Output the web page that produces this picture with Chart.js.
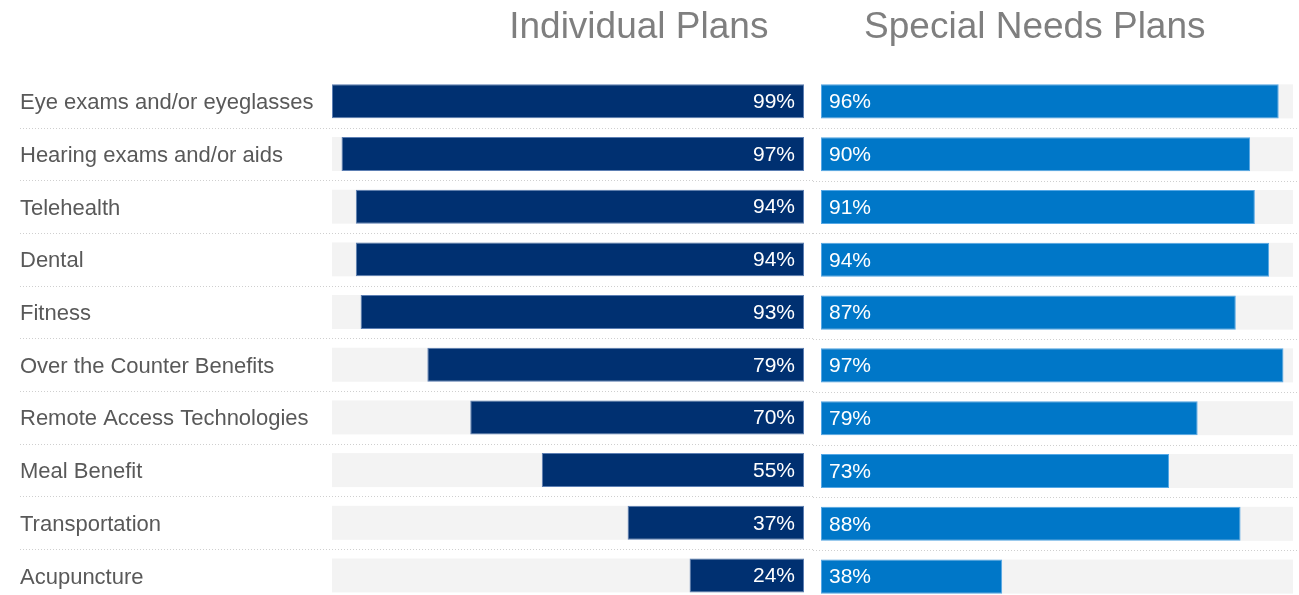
<!DOCTYPE html>
<html>
<head>
<meta charset="utf-8">
<script src="https://cdn.jsdelivr.net/npm/chart.js@4.4.1/dist/chart.umd.min.js"></script>
<style>
  html, body { margin: 0; padding: 0; background: #fff; overflow: hidden; }
  #wrap { position: relative; width: 1299px; height: 615px; }
  #left { position: absolute; left: 0; top: 0; }
  #right { position: absolute; left: 813px; top: 0; }
</style>
</head>
<body>
<div id="wrap">
  <canvas id="left" width="813" height="615"></canvas>
  <canvas id="right" width="486" height="615"></canvas>
</div>
<script>
const categories = [
  'Eye exams and/or eyeglasses',
  'Hearing exams and/or aids',
  'Telehealth',
  'Dental',
  'Fitness',
  'Over the Counter Benefits',
  'Remote Access Technologies',
  'Meal Benefit',
  'Transportation',
  'Acupuncture'
];
const individualPlans = [99, 97, 94, 94, 93, 79, 70, 55, 37, 24];
const specialNeedsPlans = [96, 90, 91, 94, 87, 97, 79, 73, 88, 38];
const panelTitles = ['Individual Plans', 'Special Needs Plans'];

const FONT = "'Liberation Sans', Arial, sans-serif";

// grey track behind each bar, dotted row separators, value labels, panel title
const trackPlugin = {
  id: 'track',
  beforeDatasetsDraw(chart) {
    const ctx = chart.ctx;
    const area = chart.chartArea;
    const y = chart.scales.y;
    ctx.save();
    ctx.fillStyle = '#f3f3f3';
    chart.getDatasetMeta(0).data.forEach(bar => {
      ctx.fillRect(area.left, bar.y - bar.height / 2, area.right - area.left, bar.height);
    });
    ctx.strokeStyle = '#cfcfcf';
    ctx.lineWidth = 1;
    ctx.setLineDash([1, 2]);
    const x0 = chart.options.sepFrom;
    for (let i = 0; i < categories.length - 1; i++) {
      const yy = Math.round((y.getPixelForValue(i) + y.getPixelForValue(i + 1)) / 2) + 0.5;
      ctx.beginPath();
      ctx.moveTo(x0, yy);
      ctx.lineTo(chart.width, yy);
      ctx.stroke();
    }
    ctx.restore();
  },
  afterDatasetsDraw(chart) {
    const ctx = chart.ctx;
    const side = chart.options.side;
    ctx.save();
    ctx.fillStyle = '#ffffff';
    ctx.font = '21px ' + FONT;
    ctx.textBaseline = 'middle';
    const vals = chart.data.datasets[0].data;
    chart.getDatasetMeta(0).data.forEach((bar, i) => {
      if (side === 'left') {
        ctx.textAlign = 'right';
        ctx.fillText(vals[i] + '%', bar.base - 9, bar.y + 1);
      } else {
        ctx.textAlign = 'left';
        ctx.fillText(vals[i] + '%', bar.base + 8, bar.y + 1);
      }
    });
    const area = chart.chartArea;
    ctx.fillStyle = '#7f7f7f';
    ctx.font = '37px ' + FONT;
    ctx.textAlign = 'center';
    ctx.fillText(chart.options.panelTitle, area.left + chart.options.titlePos * (area.right - area.left), 28);
    ctx.restore();
  }
};

function makeOptions(side) {
  const isLeft = side === 'left';
  const yScale = {
    display: isLeft,
    grid: { display: false, drawTicks: false },
    border: { display: false },
    ticks: {
      crossAlign: 'far',
      color: '#595959',
      font: { family: FONT, size: 22 },
      padding: 0,
      labelOffset: 2
    }
  };
  if (isLeft) yScale.afterFit = scale => { scale.width = 312; };
  return {
    indexAxis: 'y',
    responsive: false,
    animation: false,
    side: side,
    panelTitle: isLeft ? panelTitles[0] : panelTitles[1],
    titlePos: isLeft ? 0.65 : 0.453,
    sepFrom: isLeft ? 20 : 0,
    layout: {
      padding: isLeft
        ? { left: 20, right: 9, top: 75, bottom: 12 }
        : { left: 8, right: 6, top: 75, bottom: 12 }
    },
    plugins: {
      legend: { display: false },
      tooltip: { enabled: false }
    },
    scales: {
      x: {
        display: false,
        min: 0,
        max: 99,
        reverse: isLeft
      },
      y: yScale
    }
  };
}

new Chart(document.getElementById('left'), {
  type: 'bar',
  data: {
    labels: categories,
    datasets: [{
      label: panelTitles[0],
      data: individualPlans,
      backgroundColor: '#003071',
      borderColor: '#5d7fb3',
      borderWidth: 1,
      borderSkipped: false,
      categoryPercentage: 1,
      barPercentage: 0.645
    }]
  },
  options: makeOptions('left'),
  plugins: [trackPlugin]
});

new Chart(document.getElementById('right'), {
  type: 'bar',
  data: {
    labels: categories,
    datasets: [{
      label: panelTitles[1],
      data: specialNeedsPlans,
      backgroundColor: '#0077c8',
      borderColor: '#55a8e6',
      borderWidth: 1,
      borderSkipped: false,
      categoryPercentage: 1,
      barPercentage: 0.645
    }]
  },
  options: makeOptions('right'),
  plugins: [trackPlugin]
});
</script>
</body>
</html>
